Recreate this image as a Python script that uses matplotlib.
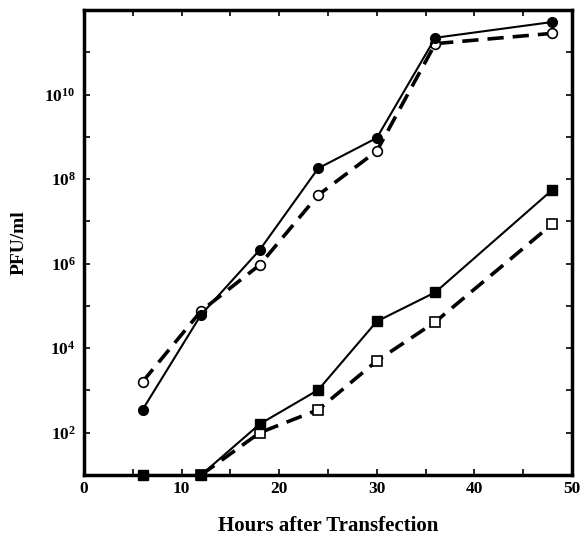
import math
import matplotlib
matplotlib.use("Agg")
import matplotlib.pyplot as plt
from matplotlib.ticker import FixedLocator, FuncFormatter, NullFormatter

# hours after transfection
hours = [6, 12, 18, 24, 30, 36, 48]
hours_open_sq = [12, 18, 24, 30, 36, 48]

# PFU/ml
filled_circle = [3.5e2, 6.2e4, 2.1e6, 1.8e8, 9.4e8, 2.2e11, 5.2e11]
open_circle = [1.6e3, 7.6e4, 9.3e5, 4.2e7, 4.6e8, 1.6e11, 2.8e11]
filled_square = [1e1, 1e1, 1.6e2, 1.03e3, 4.3e4, 2.1e5, 5.6e7]
open_square = [1e1, 1.0e2, 3.5e2, 5.0e3, 4.2e4, 8.7e6]

x_labels = [0, 10, 20, 30, 40, 50]
y_label_exps = [2, 4, 6, 8, 10]

plt.rcParams["font.family"] = ["Liberation Serif", "DejaVu Serif"]
plt.rcParams["font.weight"] = "bold"
plt.rcParams["mathtext.fontset"] = "custom"
plt.rcParams["mathtext.rm"] = "Liberation Serif:bold"
plt.rcParams["mathtext.it"] = "Liberation Serif:bold"
plt.rcParams["mathtext.bf"] = "Liberation Serif:bold"

fig = plt.figure(figsize=(5.82, 5.42), dpi=100)
ax = fig.add_axes([0.1443, 0.1236, 0.8385, 0.858])

ax.plot(hours, filled_circle, "-", color="black", lw=1.5,
        marker="o", ms=7, mfc="black", mec="black", clip_on=False, zorder=4)
ax.plot(hours, open_circle, "--", color="black", lw=2.6, dashes=(4.5, 2.5),
        marker="o", ms=7, mfc="white", mec="black", mew=1.2, clip_on=False, zorder=3)
ax.plot(hours, filled_square, "-", color="black", lw=1.5,
        marker="s", ms=7, mfc="black", mec="black", clip_on=False, zorder=4)
ax.plot(hours_open_sq, open_square, "--", color="black", lw=2.6, dashes=(4.5, 2.5),
        marker="s", ms=7, mfc="white", mec="black", mew=1.2, clip_on=False, zorder=3)

ax.set_yscale("log")
ax.set_xlim(0, 50)
ax.set_ylim(1e1, 1e12)

ax.xaxis.set_major_locator(FixedLocator(x_labels))
ax.xaxis.set_minor_locator(FixedLocator(range(5, 50, 10)))
ax.yaxis.set_major_locator(FixedLocator([10.0 ** e for e in y_label_exps]))
ax.yaxis.set_minor_locator(FixedLocator([10.0 ** e for e in [1, 3, 5, 7, 9, 11, 12]]))
ax.yaxis.set_major_formatter(FuncFormatter(
    lambda v, p: r"$\mathbf{10^{%d}}$" % round(math.log10(v))))
ax.yaxis.set_minor_formatter(NullFormatter())
ax.xaxis.set_minor_formatter(NullFormatter())

ax.tick_params(which="both", direction="in", top=True, right=True,
               length=4, width=1.2, labelsize=12.5)
ax.tick_params(axis="x", pad=4)
ax.tick_params(axis="y", pad=6)

for s in ax.spines.values():
    s.set_linewidth(2.5)

ax.set_xlabel("Hours after Transfection", fontsize=15, fontweight="bold", labelpad=14)
ax.set_ylabel("PFU/ml", fontsize=14, fontweight="bold", labelpad=12)

fig.savefig("out.png", dpi=100)
